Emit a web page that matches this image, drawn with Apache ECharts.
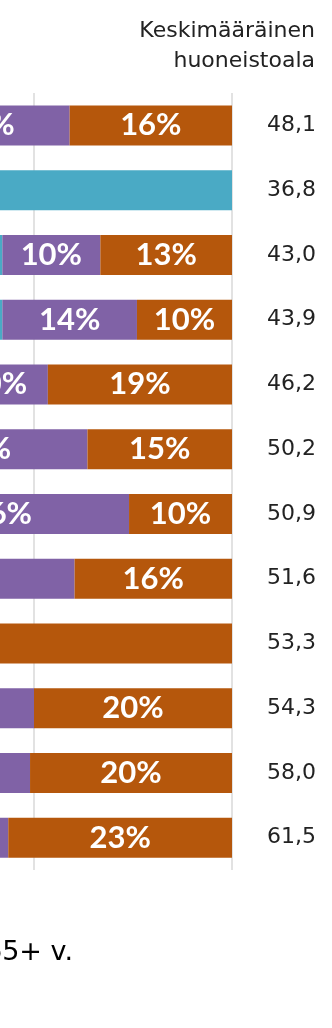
<!DOCTYPE html>
<html>
<head>
<meta charset="utf-8">
<script src="https://cdn.jsdelivr.net/npm/echarts@6/dist/echarts.min.js"></script>
<style>
  html, body { margin: 0; padding: 0; background: #ffffff; }
  #chart { width: 332px; height: 1028px; }
</style>
</head>
<body>
<div id="chart"></div>
<script>
// Categories (row labels lie outside the visible crop)
const categories = [
  "Kaikki", "Ryhmä 2", "Ryhmä 3", "Ryhmä 4", "Ryhmä 5", "Ryhmä 6",
  "Ryhmä 7", "Ryhmä 8", "Ryhmä 9", "Ryhmä 10", "Ryhmä 11", "Ryhmä 12"
];
// Average floor area per row (right-hand column)
const avgArea = ["48,1", "36,8", "43,0", "43,9", "46,2", "50,2", "50,9", "51,6", "53,3", "54,3", "58,0", "61,5"];

// Shares (%) per series, top row first
const seriesNames = ["alle 30 v.", "30–44 v.", "45–64 v.", "65+ v."];
const shareA      = [36.3, 0,   36.8, 34.8, 35.0, 30.8, 29.8, 30.1, 0,   32.0, 31.6, 32.4];
const shareTeal   = [30.0, 100, 40.0, 42.0, 36.0, 33.0, 34.0, 30.0, 0,   30.0, 32.0, 33.0];
const sharePurple = [17.3, 0,   9.9,  13.6, 10.4, 21.6, 25.8, 24.0, 0,   18.0, 16.0, 12.0];
const shareOrange = [16.4, 0,   13.3, 9.6,  18.6, 14.6, 10.4, 15.9, 100, 20.0, 20.4, 22.6];

const colors = ["#4F81BD", "#4AAAC5", "#8062A6", "#B5570C"];
const xTicks = [0, 20, 40, 60, 80, 100];

const chart = echarts.init(document.getElementById('chart'), null, { renderer: 'canvas' });

function mkSeries(name, data, color) {
  return {
    name: name,
    type: 'bar',
    stack: 'total',
    barWidth: 40,
    data: data,
    itemStyle: { color: color },
    label: {
      show: true,
      position: 'inside',
      color: '#ffffff',
      fontFamily: 'Lato',
      fontWeight: 'bold',
      fontSize: 31,
      formatter: function (p) { return p.value > 0 ? Math.round(p.value) + '%' : ''; }
    },
    emphasis: { disabled: true }
  };
}

chart.setOption({
  animation: false,
  backgroundColor: '#ffffff',
  grid: { left: -758, right: 100, top: 93, bottom: 158, containLabel: false, outerBoundsMode: 'none' },
  xAxis: {
    type: 'value',
    min: xTicks[0],
    max: xTicks[xTicks.length - 1],
    interval: 20,
    axisLabel: { show: false },
    axisLine: { show: false },
    axisTick: { show: false },
    splitLine: { show: true, lineStyle: { color: '#D9D9D9', width: 1.5 } }
  },
  yAxis: [
    {
      type: 'category',
      inverse: true,
      data: categories,
      axisLabel: { show: false },
      axisLine: { show: false },
      axisTick: { show: false }
    },
    {
      type: 'category',
      inverse: true,
      position: 'right',
      data: avgArea,
      axisLine: { show: false },
      axisTick: { show: false },
      axisLabel: {
        show: true,
        align: 'right',
        margin: 84,
        fontFamily: 'DejaVu Sans',
        fontSize: 22,
        color: '#222222'
      }
    }
  ],
  legend: {
    data: seriesNames,
    right: 259,
    width: 2000,
    top: 939,
    padding: 0,
    itemWidth: 25,
    itemHeight: 14,
    itemGap: 20,
    selectedMode: false,
    textStyle: { fontFamily: 'DejaVu Sans', fontSize: 27, color: '#000000' }
  },
  graphic: [
    {
      type: 'text',
      x: 315,
      y: 16,
      style: {
        text: 'Keskimääräinen\nhuoneistoala',
        align: 'right',
        verticalAlign: 'top',
        lineHeight: 30,
        fontFamily: 'DejaVu Sans',
        fontSize: 22,
        fill: '#222222'
      }
    }
  ],
  series: [
    mkSeries(seriesNames[0], shareA, colors[0]),
    mkSeries(seriesNames[1], shareTeal, colors[1]),
    mkSeries(seriesNames[2], sharePurple, colors[2]),
    mkSeries(seriesNames[3], shareOrange, colors[3])
  ]
});
</script>
</body>
</html>
